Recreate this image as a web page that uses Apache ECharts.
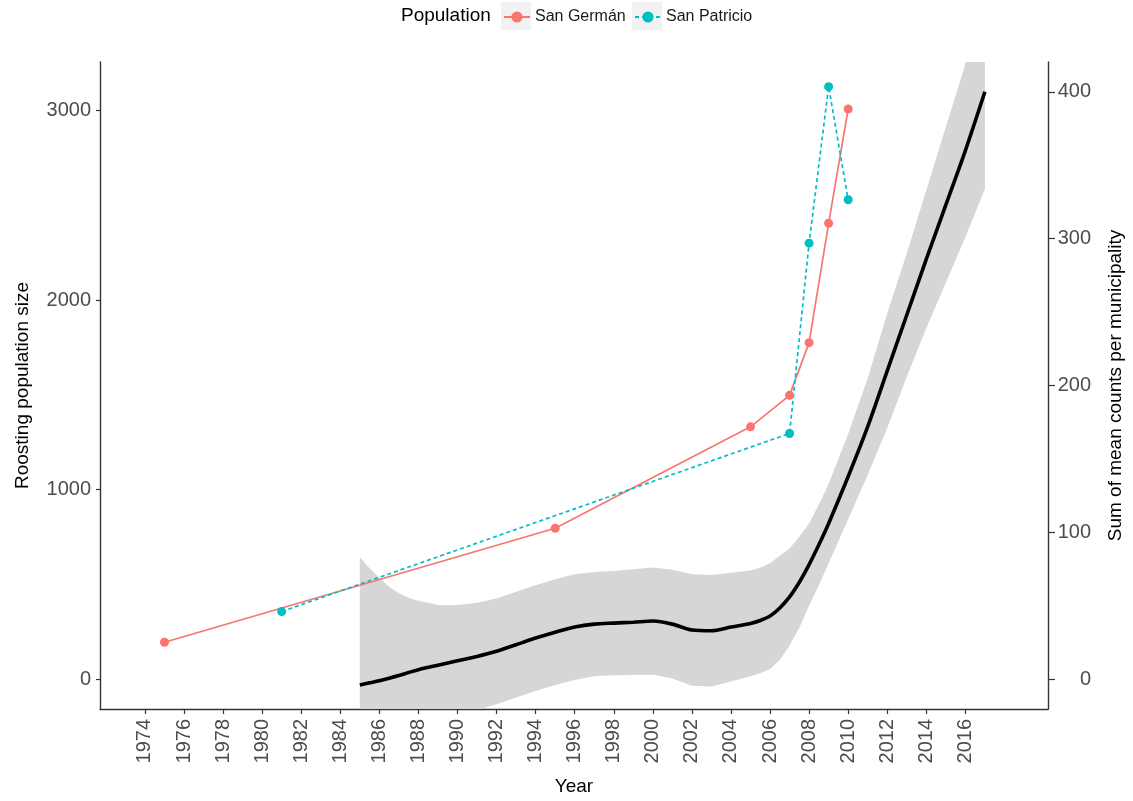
<!DOCTYPE html>
<html><head><meta charset="utf-8">
<script src="https://cdn.jsdelivr.net/npm/echarts@6/dist/echarts.min.js"></script>
<style>html,body{margin:0;padding:0;background:#fff}#c{width:1133px;height:801px}</style>
</head><body><div id="c"></div>
<script>
// ---- data ----
const germanYears = [1975, 1995, 2005, 2007, 2008, 2009, 2010];
const germanValues = [195, 797, 1332, 1498, 1776, 2406, 3009];
const patricioYears = [1981, 2007, 2008, 2009, 2010];
const patricioValues = [357, 1297, 2301, 3127, 2530];

const smoothYears = [1985,1985.5,1986,1986.5,1987,1987.5,1988,1989,1990,1991,1992,1993,1994,1995,1996,1997,1998,1999,2000,2001,2002,2003,2004,2005,2005.5,2006,2006.5,2007,2007.5,2008,2008.5,2009,2010,2011,2012,2013,2014,2015,2016,2017];
const smoothValues = [-4,-2.5,-1,0.7,2.5,4.5,6.5,9.5,12.5,15.5,19,23.5,28,32,35.5,37.5,38.2,38.8,39.6,37.5,33.5,33,35.5,38,40,43,48.5,56,66,78,91.5,106,138,172,210,248,286,323,360,400];
const bandLower = [-91,-80.5,-71,-61.5,-53.5,-46.5,-40.5,-31.5,-25.5,-21,-17,-12.5,-8,-4,-0.5,2,2.7,2.8,3.1,0.5,-4.5,-5,-1.5,2,4,7,13,23,35,50,64,79,109,139,171,206,239,270,301,334];
const bandUpper = [83,75.5,69,63,58.5,55.5,53.5,50.5,50.5,52,55,59.5,64,68,71.5,73,73.7,74.8,76.1,74.5,71.5,71,72.5,74,76,79,84,89,97,106,119,133,167,205,249,290,333,376,419,466];

const xTicks = [1974,1976,1978,1980,1982,1984,1986,1988,1990,1992,1994,1996,1998,2000,2002,2004,2006,2008,2010,2012,2014,2016];
const leftTicks = [0, 1000, 2000, 3000];
const rightTicks = [0, 100, 200, 300, 400];

const seriesNames = ['San Germán', 'San Patricio'];
const legendTitle = 'Population';

// ---- build ----
const FONT = '"Liberation Sans", Arial, sans-serif';
const zip = (a, b) => a.map((v, i) => [v, b[i]]);
const chart = echarts.init(document.getElementById('c'), null, {renderer: 'canvas'});

const axisLineStyle = {color: '#333333', width: 1.4};
const tickStyle = {color: '#333333', width: 1.2};

const bandData = smoothYears.map((y, i) => [y, bandLower[i], bandUpper[i]]);

function renderBand(params, api) {
  if (params.dataIndex !== 0) return null;
  const top = [], bottom = [];
  for (let i = 0; i < bandData.length; i++) {
    top.push(api.coord([bandData[i][0], bandData[i][2]]));
    bottom.push(api.coord([bandData[i][0], bandData[i][1]]));
  }
  const pts = top.concat(bottom.reverse());
  const cs = params.coordSys;
  return {
    type: 'group',
    children: [{
      type: 'polygon',
      shape: {points: pts},
      style: {fill: '#D6D6D6'}
    }],
    clipPath: {type: 'rect', shape: {x: cs.x, y: cs.y, width: cs.width, height: cs.height}}
  };
}

chart.setOption({
  backgroundColor: '#ffffff',
  animation: false,
  textStyle: {fontFamily: FONT},
  title: {
    text: legendTitle, left: 401, top: 6, padding: 0,
    textStyle: {fontFamily: FONT, fontSize: 19, fontWeight: 'normal', color: '#000'}
  },
  graphic: [
    {type: 'rect', shape: {x: 501, y: 2, width: 30, height: 28}, style: {fill: '#F2F2F2'}, z: -1},
    {type: 'rect', shape: {x: 632, y: 2, width: 30, height: 28}, style: {fill: '#F2F2F2'}, z: -1}
  ],
  legend: [
    {data: [seriesNames[0]], left: 503, top: 9, padding: 0, itemWidth: 26, itemHeight: 14, itemGap: 0,
     textStyle: {fontFamily: FONT, fontSize: 16, color: '#1a1a1a'}},
    {data: [seriesNames[1]], left: 634, top: 9, padding: 0, itemWidth: 26, itemHeight: 14, itemGap: 0,
     textStyle: {fontFamily: FONT, fontSize: 16, color: '#1a1a1a'}}
  ],
  grid: {left: 100, top: 62, width: 951, height: 651, containLabel: false},
  xAxis: {
    type: 'value', min: 1971.7, max: 2020.23,
    name: 'Year', nameLocation: 'middle', nameGap: 68,
    nameTextStyle: {fontFamily: FONT, fontSize: 19, color: '#000'},
    axisLine: {show: true, onZero: false, lineStyle: axisLineStyle},
    axisTick: {show: true, length: 5, lineStyle: tickStyle, customValues: xTicks},
    axisLabel: {rotate: 90, margin: 10, fontSize: 20, color: '#4D4D4D', fontFamily: FONT, customValues: xTicks, formatter: v => String(v)},
    splitLine: {show: false}
  },
  yAxis: [
    {
      type: 'value', position: 'left', min: -157, max: 3257,
      name: 'Roosting population size', nameLocation: 'middle', nameGap: 68,
      nameTextStyle: {fontFamily: FONT, fontSize: 19, color: '#000'},
      axisLine: {show: true, onZero: false, lineStyle: axisLineStyle},
      axisTick: {show: true, length: 4, lineStyle: tickStyle, customValues: leftTicks},
      axisLabel: {margin: 9, fontSize: 20, color: '#4D4D4D', fontFamily: FONT, customValues: leftTicks, formatter: v => String(v)},
      splitLine: {show: false}
    },
    {
      type: 'value', position: 'right', min: -20.3, max: 420.3,
      name: 'Sum of mean counts per municipality', nameLocation: 'middle', nameGap: 58,
      nameTextStyle: {fontFamily: FONT, fontSize: 19, color: '#000'},
      axisLine: {show: true, onZero: false, lineStyle: axisLineStyle},
      axisTick: {show: true, length: 7, lineStyle: tickStyle, customValues: rightTicks},
      axisLabel: {margin: 43, align: 'right', fontSize: 20, color: '#4D4D4D', fontFamily: FONT, customValues: rightTicks, formatter: v => String(v)},
      splitLine: {show: false}
    }
  ],
  series: [
    {
      name: 'band', type: 'custom', yAxisIndex: 1,
      data: bandData, renderItem: renderBand, silent: true, z: 1,
      encode: {x: 0, y: [1, 2]}
    },
    {
      name: 'smooth', type: 'line', yAxisIndex: 1,
      data: zip(smoothYears, smoothValues), symbol: 'none', smooth: 0.3,
      lineStyle: {color: '#000000', width: 3.6}, z: 2
    },
    {
      name: seriesNames[0], type: 'line', yAxisIndex: 0,
      data: zip(germanYears, germanValues),
      symbol: 'circle', symbolSize: 9,
      itemStyle: {color: '#F8766D'},
      lineStyle: {color: '#F8766D', width: 1.7, type: 'solid'}, z: 3
    },
    {
      name: seriesNames[1], type: 'line', yAxisIndex: 0,
      data: zip(patricioYears, patricioValues),
      symbol: 'circle', symbolSize: 9,
      itemStyle: {color: '#00BFC4'},
      lineStyle: {color: '#00BFC4', width: 1.7, type: [4, 3]}, z: 3
    }
  ]
});
</script>
</body></html>
